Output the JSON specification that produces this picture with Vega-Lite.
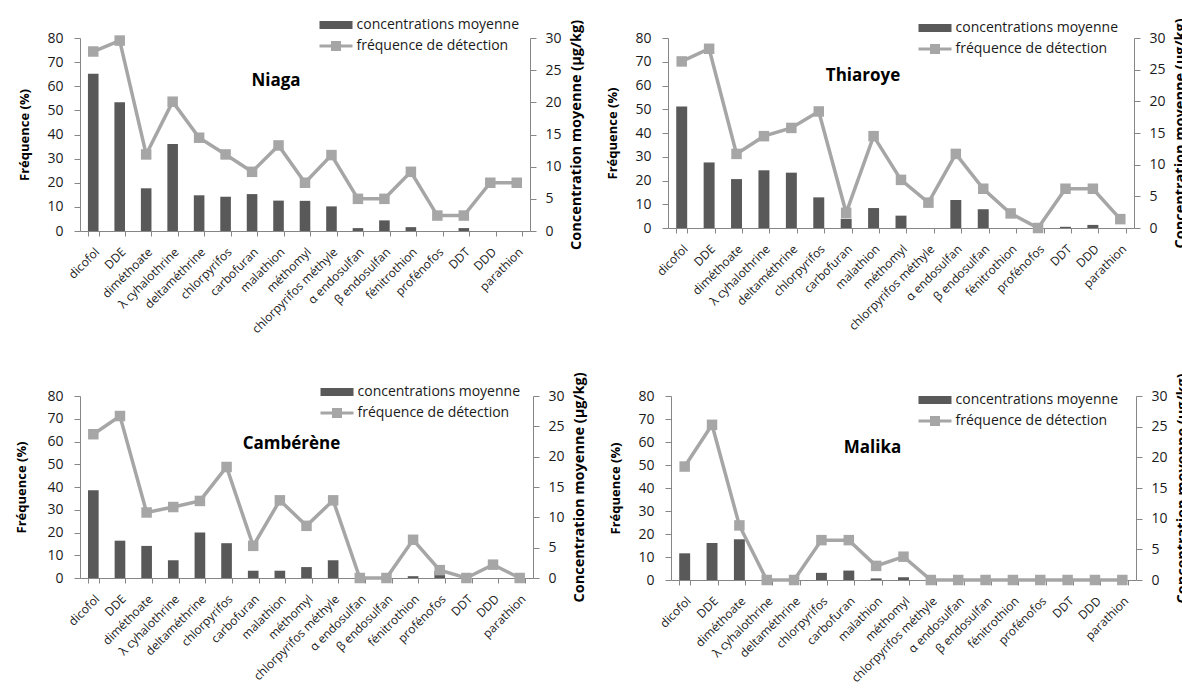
{
  "$schema": "https://vega.github.io/schema/vega-lite/v6.json",
  "padding": {"left": 15, "top": 17, "right": 0, "bottom": 0},
  "spacing": 35,
  "datasets": {
    "d": [
      {"site": "Niaga", "pesticide": "dicofol", "conc": 65.2, "freq": 27.9},
      {"site": "Niaga", "pesticide": "DDE", "conc": 53.4, "freq": 29.6},
      {"site": "Niaga", "pesticide": "diméthoate", "conc": 17.7, "freq": 11.9},
      {"site": "Niaga", "pesticide": "λ cyhalothrine", "conc": 36.1, "freq": 20.1},
      {"site": "Niaga", "pesticide": "deltaméthrine", "conc": 14.8, "freq": 14.5},
      {"site": "Niaga", "pesticide": "chlorpyrifos", "conc": 14.2, "freq": 11.9},
      {"site": "Niaga", "pesticide": "carbofuran", "conc": 15.3, "freq": 9.2},
      {"site": "Niaga", "pesticide": "malathion", "conc": 12.6, "freq": 13.3},
      {"site": "Niaga", "pesticide": "méthomyl", "conc": 12.5, "freq": 7.5},
      {"site": "Niaga", "pesticide": "chlorpyrifos méthyle", "conc": 10.2, "freq": 11.8},
      {"site": "Niaga", "pesticide": "α endosulfan", "conc": 1.2, "freq": 5.0},
      {"site": "Niaga", "pesticide": "β endosulfan", "conc": 4.4, "freq": 5.0},
      {"site": "Niaga", "pesticide": "fénitrothion", "conc": 1.6, "freq": 9.2},
      {"site": "Niaga", "pesticide": "profénofos", "conc": 0, "freq": 2.4},
      {"site": "Niaga", "pesticide": "DDT", "conc": 1.2, "freq": 2.4},
      {"site": "Niaga", "pesticide": "DDD", "conc": 0, "freq": 7.5},
      {"site": "Niaga", "pesticide": "parathion", "conc": 0, "freq": 7.5},

      {"site": "Thiaroye", "pesticide": "dicofol", "conc": 51.2, "freq": 26.3},
      {"site": "Thiaroye", "pesticide": "DDE", "conc": 27.6, "freq": 28.3},
      {"site": "Thiaroye", "pesticide": "diméthoate", "conc": 20.6, "freq": 11.7},
      {"site": "Thiaroye", "pesticide": "λ cyhalothrine", "conc": 24.3, "freq": 14.5},
      {"site": "Thiaroye", "pesticide": "deltaméthrine", "conc": 23.3, "freq": 15.8},
      {"site": "Thiaroye", "pesticide": "chlorpyrifos", "conc": 12.9, "freq": 18.4},
      {"site": "Thiaroye", "pesticide": "carbofuran", "conc": 3.9, "freq": 2.4},
      {"site": "Thiaroye", "pesticide": "malathion", "conc": 8.4, "freq": 14.5},
      {"site": "Thiaroye", "pesticide": "méthomyl", "conc": 5.2, "freq": 7.6},
      {"site": "Thiaroye", "pesticide": "chlorpyrifos méthyle", "conc": 0, "freq": 4.0},
      {"site": "Thiaroye", "pesticide": "α endosulfan", "conc": 11.8, "freq": 11.7},
      {"site": "Thiaroye", "pesticide": "β endosulfan", "conc": 7.9, "freq": 6.2},
      {"site": "Thiaroye", "pesticide": "fénitrothion", "conc": 0, "freq": 2.3},
      {"site": "Thiaroye", "pesticide": "profénofos", "conc": 0, "freq": 0},
      {"site": "Thiaroye", "pesticide": "DDT", "conc": 0.5, "freq": 6.2},
      {"site": "Thiaroye", "pesticide": "DDD", "conc": 1.3, "freq": 6.2},
      {"site": "Thiaroye", "pesticide": "parathion", "conc": 0, "freq": 1.4},

      {"site": "Cambérène", "pesticide": "dicofol", "conc": 38.6, "freq": 23.7},
      {"site": "Cambérène", "pesticide": "DDE", "conc": 16.4, "freq": 26.7},
      {"site": "Cambérène", "pesticide": "diméthoate", "conc": 14.1, "freq": 10.8},
      {"site": "Cambérène", "pesticide": "λ cyhalothrine", "conc": 7.8, "freq": 11.7},
      {"site": "Cambérène", "pesticide": "deltaméthrine", "conc": 20.0, "freq": 12.7},
      {"site": "Cambérène", "pesticide": "chlorpyrifos", "conc": 15.3, "freq": 18.3},
      {"site": "Cambérène", "pesticide": "carbofuran", "conc": 3.2, "freq": 5.3},
      {"site": "Cambérène", "pesticide": "malathion", "conc": 3.2, "freq": 12.8},
      {"site": "Cambérène", "pesticide": "méthomyl", "conc": 4.8, "freq": 8.6},
      {"site": "Cambérène", "pesticide": "chlorpyrifos méthyle", "conc": 7.8, "freq": 12.8},
      {"site": "Cambérène", "pesticide": "α endosulfan", "conc": 0, "freq": 0},
      {"site": "Cambérène", "pesticide": "β endosulfan", "conc": 0, "freq": 0},
      {"site": "Cambérène", "pesticide": "fénitrothion", "conc": 0.8, "freq": 6.3},
      {"site": "Cambérène", "pesticide": "profénofos", "conc": 3.0, "freq": 1.3},
      {"site": "Cambérène", "pesticide": "DDT", "conc": 0, "freq": 0},
      {"site": "Cambérène", "pesticide": "DDD", "conc": 0, "freq": 2.2},
      {"site": "Cambérène", "pesticide": "parathion", "conc": 0, "freq": 0},

      {"site": "Malika", "pesticide": "dicofol", "conc": 11.6, "freq": 18.5},
      {"site": "Malika", "pesticide": "DDE", "conc": 16.1, "freq": 25.3},
      {"site": "Malika", "pesticide": "diméthoate", "conc": 17.7, "freq": 8.9},
      {"site": "Malika", "pesticide": "λ cyhalothrine", "conc": 0, "freq": 0},
      {"site": "Malika", "pesticide": "deltaméthrine", "conc": 0, "freq": 0},
      {"site": "Malika", "pesticide": "chlorpyrifos", "conc": 3.1, "freq": 6.5},
      {"site": "Malika", "pesticide": "carbofuran", "conc": 4.1, "freq": 6.5},
      {"site": "Malika", "pesticide": "malathion", "conc": 0.7, "freq": 2.3},
      {"site": "Malika", "pesticide": "méthomyl", "conc": 1.2, "freq": 3.8},
      {"site": "Malika", "pesticide": "chlorpyrifos méthyle", "conc": 0, "freq": 0},
      {"site": "Malika", "pesticide": "α endosulfan", "conc": 0, "freq": 0},
      {"site": "Malika", "pesticide": "β endosulfan", "conc": 0, "freq": 0},
      {"site": "Malika", "pesticide": "fénitrothion", "conc": 0, "freq": 0},
      {"site": "Malika", "pesticide": "profénofos", "conc": 0, "freq": 0},
      {"site": "Malika", "pesticide": "DDT", "conc": 0, "freq": 0},
      {"site": "Malika", "pesticide": "DDD", "conc": 0, "freq": 0},
      {"site": "Malika", "pesticide": "parathion", "conc": 0, "freq": 0}
    ]
  },
  "data": {"name": "d"},
  "resolve": {"scale": {"color": "independent", "shape": "independent"}},
  "vconcat": [
    {
      "spacing": 23,
      "resolve": {"scale": {"color": "independent", "shape": "independent"}},
      "hconcat": [
        {
          "width": 450, "height": 193,
          "title": {"text": "Niaga", "frame": "group", "anchor": "middle", "offset": 0, "dx": -29, "dy": 85, "baseline": "alphabetic"},
          "transform": [{"filter": "datum.site === 'Niaga'"}],
          "encoding": {"x": {"field": "pesticide", "type": "nominal", "sort": null, "title": null}},
          "layer": [
            {"mark": {"type": "bar", "color": "#595959"},
             "encoding": {"y": {"field": "conc", "type": "quantitative", "scale": {"domain": [0, 80]}, "axis": {"title": "Fréquence (%)", "values": [0, 10, 20, 30, 40, 50, 60, 70, 80]}}}},
            {"mark": {"type": "line", "color": "#A6A6A6", "strokeWidth": 3.5, "point": {"shape": "square", "filled": true, "size": 110, "color": "#A6A6A6", "opacity": 1}},
             "encoding": {"y": {"field": "freq", "type": "quantitative", "scale": {"domain": [0, 30]}, "axis": {"orient": "right", "title": "Concentration moyenne (µg/kg)", "values": [0, 5, 10, 15, 20, 25, 30], "titleAngle": 270, "titleBaseline": "top"}}}},
            {"mark": {"type": "point", "filled": true, "opacity": 0},
             "encoding": {
               "color": {"datum": "concentrations moyenne", "scale": {"domain": ["concentrations moyenne", "fréquence de détection"], "range": ["#595959", "#A6A6A6"]}, "legend": {"title": null, "orient": "none", "legendX": 249, "legendY": -20}},
               "shape": {"datum": "concentrations moyenne", "scale": {"domain": ["concentrations moyenne", "fréquence de détection"], "range": ["M-3.3,-0.8H3.3V0.8H-3.3Z", "M-3.3,-0.3H3.3V0.3H-3.3Z M-1,-1H1V1H-1Z"]}, "legend": {"title": null, "orient": "none", "legendX": 249, "legendY": -20}}
             }}
          ],
          "resolve": {"scale": {"y": "independent"}}
        },
        {
          "width": 466, "height": 190,
          "title": {"text": "Thiaroye", "frame": "group", "anchor": "middle", "offset": 0, "dx": -38, "dy": 80, "baseline": "alphabetic"},
          "transform": [{"filter": "datum.site === 'Thiaroye'"}],
          "encoding": {"x": {"field": "pesticide", "type": "nominal", "sort": null, "title": null}},
          "layer": [
            {"mark": {"type": "bar", "color": "#595959"},
             "encoding": {"y": {"field": "conc", "type": "quantitative", "scale": {"domain": [0, 80]}, "axis": {"title": "Fréquence (%)", "values": [0, 10, 20, 30, 40, 50, 60, 70, 80]}}}},
            {"mark": {"type": "line", "color": "#A6A6A6", "strokeWidth": 3.5, "point": {"shape": "square", "filled": true, "size": 110, "color": "#A6A6A6", "opacity": 1}},
             "encoding": {"y": {"field": "freq", "type": "quantitative", "scale": {"domain": [0, 30]}, "axis": {"orient": "right", "title": "Concentration moyenne (µg/kg)", "values": [0, 5, 10, 15, 20, 25, 30], "titleAngle": 270, "titleBaseline": "top"}}}},
            {"mark": {"type": "point", "filled": true, "opacity": 0},
             "encoding": {
               "color": {"datum": "concentrations moyenne", "scale": {"domain": ["concentrations moyenne", "fréquence de détection"], "range": ["#595959", "#A6A6A6"]}, "legend": {"title": null, "orient": "none", "legendX": 260, "legendY": -17}},
               "shape": {"datum": "concentrations moyenne", "scale": {"domain": ["concentrations moyenne", "fréquence de détection"], "range": ["M-3.3,-0.8H3.3V0.8H-3.3Z", "M-3.3,-0.3H3.3V0.3H-3.3Z M-1,-1H1V1H-1Z"]}, "legend": {"title": null, "orient": "none", "legendX": 260, "legendY": -17}}
             }}
          ],
          "resolve": {"scale": {"y": "independent"}}
        }
      ]
    },
    {
      "spacing": 23,
      "resolve": {"scale": {"color": "independent", "shape": "independent"}},
      "hconcat": [
        {
          "width": 453, "height": 182,
          "title": {"text": "Cambérène", "frame": "group", "anchor": "middle", "offset": 0, "dx": -15, "dy": 94, "baseline": "alphabetic"},
          "transform": [{"filter": "datum.site === 'Cambérène'"}],
          "encoding": {"x": {"field": "pesticide", "type": "nominal", "sort": null, "title": null}},
          "layer": [
            {"mark": {"type": "bar", "color": "#595959"},
             "encoding": {"y": {"field": "conc", "type": "quantitative", "scale": {"domain": [0, 80]}, "axis": {"title": "Fréquence (%)", "titlePadding": 18, "values": [0, 10, 20, 30, 40, 50, 60, 70, 80]}}}},
            {"mark": {"type": "line", "color": "#A6A6A6", "strokeWidth": 3.5, "point": {"shape": "square", "filled": true, "size": 110, "color": "#A6A6A6", "opacity": 1}},
             "encoding": {"y": {"field": "freq", "type": "quantitative", "scale": {"domain": [0, 30]}, "axis": {"orient": "right", "title": "Concentration moyenne (µg/kg)", "values": [0, 5, 10, 15, 20, 25, 30], "titleAngle": 270, "titleBaseline": "top"}}}},
            {"mark": {"type": "point", "filled": true, "opacity": 0},
             "encoding": {
               "color": {"datum": "concentrations moyenne", "scale": {"domain": ["concentrations moyenne", "fréquence de détection"], "range": ["#595959", "#A6A6A6"]}, "legend": {"title": null, "orient": "none", "legendX": 250, "legendY": -11}},
               "shape": {"datum": "concentrations moyenne", "scale": {"domain": ["concentrations moyenne", "fréquence de détection"], "range": ["M-3.3,-0.8H3.3V0.8H-3.3Z", "M-3.3,-0.3H3.3V0.3H-3.3Z M-1,-1H1V1H-1Z"]}, "legend": {"title": null, "orient": "none", "legendX": 250, "legendY": -11}}
             }}
          ],
          "resolve": {"scale": {"y": "independent"}}
        },
        {
          "width": 465, "height": 184,
          "title": {"text": "Malika", "frame": "group", "anchor": "middle", "offset": 0, "dx": -31, "dy": 97, "baseline": "alphabetic"},
          "transform": [{"filter": "datum.site === 'Malika'"}],
          "encoding": {"x": {"field": "pesticide", "type": "nominal", "sort": null, "title": null}},
          "layer": [
            {"mark": {"type": "bar", "color": "#595959"},
             "encoding": {"y": {"field": "conc", "type": "quantitative", "scale": {"domain": [0, 80]}, "axis": {"title": "Fréquence (%)", "values": [0, 10, 20, 30, 40, 50, 60, 70, 80]}}}},
            {"mark": {"type": "line", "color": "#A6A6A6", "strokeWidth": 3.5, "point": {"shape": "square", "filled": true, "size": 110, "color": "#A6A6A6", "opacity": 1}},
             "encoding": {"y": {"field": "freq", "type": "quantitative", "scale": {"domain": [0, 30]}, "axis": {"orient": "right", "title": "Concentration moyenne (µg/kg)", "values": [0, 5, 10, 15, 20, 25, 30], "titleAngle": 270, "titleBaseline": "top"}}}},
            {"mark": {"type": "point", "filled": true, "opacity": 0},
             "encoding": {
               "color": {"datum": "concentrations moyenne", "scale": {"domain": ["concentrations moyenne", "fréquence de détection"], "range": ["#595959", "#A6A6A6"]}, "legend": {"title": null, "orient": "none", "legendX": 257, "legendY": -3}},
               "shape": {"datum": "concentrations moyenne", "scale": {"domain": ["concentrations moyenne", "fréquence de détection"], "range": ["M-3.3,-0.8H3.3V0.8H-3.3Z", "M-3.3,-0.3H3.3V0.3H-3.3Z M-1,-1H1V1H-1Z"]}, "legend": {"title": null, "orient": "none", "legendX": 257, "legendY": -3}}
             }}
          ],
          "resolve": {"scale": {"y": "independent"}}
        }
      ]
    }
  ],
  "config": {
    "font": "Open Sans",
    "background": "white",
    "view": {"stroke": null},
    "scale": {"bandPaddingInner": 0.6, "bandPaddingOuter": 0.3},
    "axis": {"grid": false, "domainColor": "#868686", "tickColor": "#868686", "domainWidth": 1, "tickWidth": 1, "labelColor": "#1a1a1a", "titleColor": "#000000", "labelFontSize": 14, "titleFontSize": 13, "titleFontWeight": "bold", "tickSize": 6, "labelFont": "Open Sans", "titleFont": "Open Sans"},
    "axisX": {"labelAngle": -45, "labelFontSize": 12, "tickBand": "extent", "labelPadding": 10, "tickSize": 5},
    "axisLeft": {"labelPadding": 11, "titlePadding": 15},
    "axisRight": {"labelPadding": 9, "titlePadding": 8, "titleFontSize": 14.5},
    "legend": {"labelFontSize": 14, "labelColor": "#1a1a1a", "labelFont": "Open Sans", "labelLimit": 0, "symbolSize": 100, "labelOffset": 13.5, "rowPadding": 7, "padding": 0, "symbolOpacity": 1, "symbolStrokeWidth": 0},
    "title": {"font": "Open Sans", "fontSize": 17, "fontWeight": "bold", "color": "#000000"}
  }
}
